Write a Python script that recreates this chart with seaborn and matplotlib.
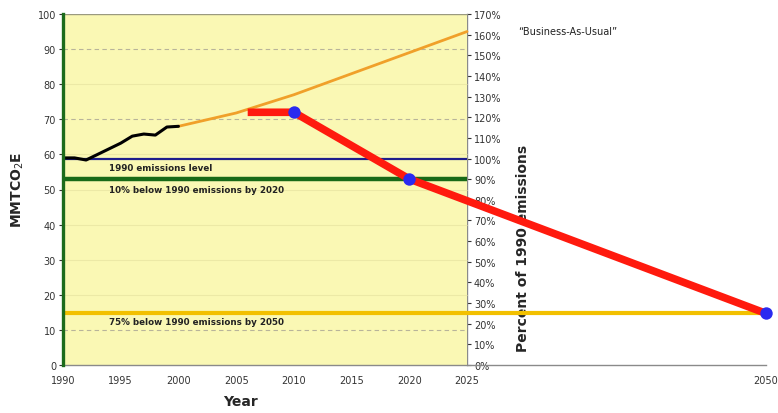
import numpy as np
import pandas as pd
import matplotlib
matplotlib.use("Agg")
import matplotlib.pyplot as plt
import seaborn as sns

# Historical emissions (MMTCO2E)
hist_years = [1990, 1991, 1992, 1993, 1994, 1995, 1996, 1997, 1998, 1999, 2000]
hist_values = [59.0, 59.0, 58.4, 60.0, 61.6, 63.2, 65.2, 65.8, 65.5, 67.8, 68.0]

# Business-as-usual projection
bau_years = [2000, 2005, 2010, 2015, 2020, 2025]
bau_values = [68.0, 71.8, 77.0, 83.0, 89.0, 95.0]

# Reduction target path
target_years = [2006, 2010, 2020, 2050]
target_values = [72.0, 72.0, 53.0, 14.7]
goal_years = [2010, 2020, 2050]
goal_values = [72.0, 53.0, 14.7]

# Reference levels
level_1990 = 58.8
level_2020 = 52.9
level_2050 = 14.7

x_ticks = [1990, 1995, 2000, 2005, 2010, 2015, 2020, 2025, 2050]
y_ticks = list(range(0, 101, 10))
pct_ticks = list(range(0, 171, 10))

sns.set_style("white")
plt.rcParams["font.family"] = ["DejaVu Sans"]

fig = plt.figure(figsize=(7.78, 4.14), dpi=100)
ax = fig.add_axes([63 / 778, 1 - 366 / 414, (766 - 63) / 778, (366 - 15) / 414])

# the 2025-2050 stretch is drawn slightly wider than the historical panel
R = 1.036


def fwd(x):
    x = np.asarray(x, dtype=float)
    return np.where(x <= 2025, x - 1990, 35 + (x - 2025) * R)


def inv(u):
    u = np.asarray(u, dtype=float)
    return np.where(u <= 35, u + 1990, 2025 + (u - 35) / R)


ax.set_xscale("function", functions=(fwd, inv))
ax.set_xlim(1990, 2050)
ax.set_ylim(0, 100)

# pale yellow panel for 1990-2025
ax.axvspan(1990, 2025, ymin=0, ymax=1, color="#FAF8B4", zorder=0, lw=0)

# light gridlines inside the panel
for v in [20, 30, 40, 50, 60, 80]:
    ax.hlines(v, 1990, 2025, color="#ECE9A6", lw=0.8, zorder=1)
for v in [10, 70, 90]:
    ax.hlines(v, 1990, 2025, color="#B8B49A", lw=0.8, ls=(0, (4, 3)), zorder=1)
ax.hlines(100, 1990, 2025, color="#9A9A80", lw=1.0, zorder=2)

# reference levels
ax.hlines(level_1990, 1990, 2025, color="#1E1E8C", lw=1.6, zorder=3)
ax.hlines(level_2020, 1990, 2025, color="#186A18", lw=3.2, zorder=3)
ax.hlines(level_2050, 1990, 2050, color="#F2C000", lw=3.0, zorder=3)

lbl = dict(fontsize=6.3, fontweight="bold", va="center", ha="left", color="#222222")
ax.text(1994, 56.3, "1990 emissions level", **lbl)
ax.text(1994, 50.0, "10% below 1990 emissions by 2020", **lbl)
ax.text(1994, 12.4, "75% below 1990 emissions by 2050", **lbl)

hist = pd.DataFrame({"year": hist_years, "value": hist_values})
bau = pd.DataFrame({"year": bau_years, "value": bau_values})
target = pd.DataFrame({"year": target_years, "value": target_values})
goals = pd.DataFrame({"year": goal_years, "value": goal_values})

sns.lineplot(data=bau, x="year", y="value", ax=ax, color="#F0A02A", lw=2.0, zorder=4)
sns.lineplot(data=hist, x="year", y="value", ax=ax, color="black", lw=2.2, zorder=5)
sns.lineplot(data=target, x="year", y="value", ax=ax, color="#FF1A0E", lw=5.5,
             zorder=6, solid_capstyle="butt", clip_on=False)
sns.scatterplot(data=goals, x="year", y="value", ax=ax, color="#2A2AF0", s=80,
                edgecolor="#2A2AF0", linewidth=0, zorder=7, clip_on=False)

ax.set_xticks(x_ticks)
ax.set_xticklabels([str(t) for t in x_ticks])
ax.set_yticks(y_ticks)
ax.set_yticklabels([str(t) for t in y_ticks])
ax.tick_params(axis="both", labelsize=7, colors="#333333", length=3, width=0.8,
               direction="out", pad=2)
ax.tick_params(axis="x", pad=4)
ax.set_xlabel("")
ax.set_ylabel("")

for s in ["top", "right"]:
    ax.spines[s].set_visible(False)
ax.spines["left"].set_color("#1C6B1C")
ax.spines["left"].set_linewidth(2.4)
ax.spines["bottom"].set_color("#8A8A8A")
ax.spines["bottom"].set_linewidth(1.0)
ax.spines["left"].set_zorder(8)

# percent of 1990 emissions on the right edge of the panel
ax2 = ax.twinx()
ax2.set_ylim(0, 170)
ax2.set_yticks(pct_ticks)
ax2.set_yticklabels([f"{t}%" for t in pct_ticks])
ax2.spines["right"].set_position(("data", 2025))
ax2.spines["right"].set_color("#8A8A8A")
ax2.spines["right"].set_linewidth(1.0)
for s in ["top", "left", "bottom"]:
    ax2.spines[s].set_visible(False)
ax2.tick_params(axis="y", labelsize=7, colors="#333333", length=3, width=0.8, pad=2)
ax2.grid(False)
ax.grid(False)
ax.set_zorder(ax2.get_zorder() + 1)
ax.patch.set_visible(False)

fig.text(518 / 778, 1 - 32 / 414, "\u201cBusiness-As-Usual\u201d", fontsize=7,
         va="center", ha="left", color="#222222")

fig.text(18 / 778, 1 - 190 / 414, "MMTCO$_2$E", rotation=90, fontsize=10,
         fontweight="bold", ha="center", va="center")
fig.text(240 / 778, 1 - 402 / 414, "Year", fontsize=10, fontweight="bold",
         ha="center", va="center")
# the target path runs over this label
fig.text(523 / 778, 1 - 248 / 414, "Percent of 1990 emissions", rotation=90,
         fontsize=10, fontweight="bold", ha="center", va="center", zorder=-1)

fig.savefig("out.png", dpi=100)
